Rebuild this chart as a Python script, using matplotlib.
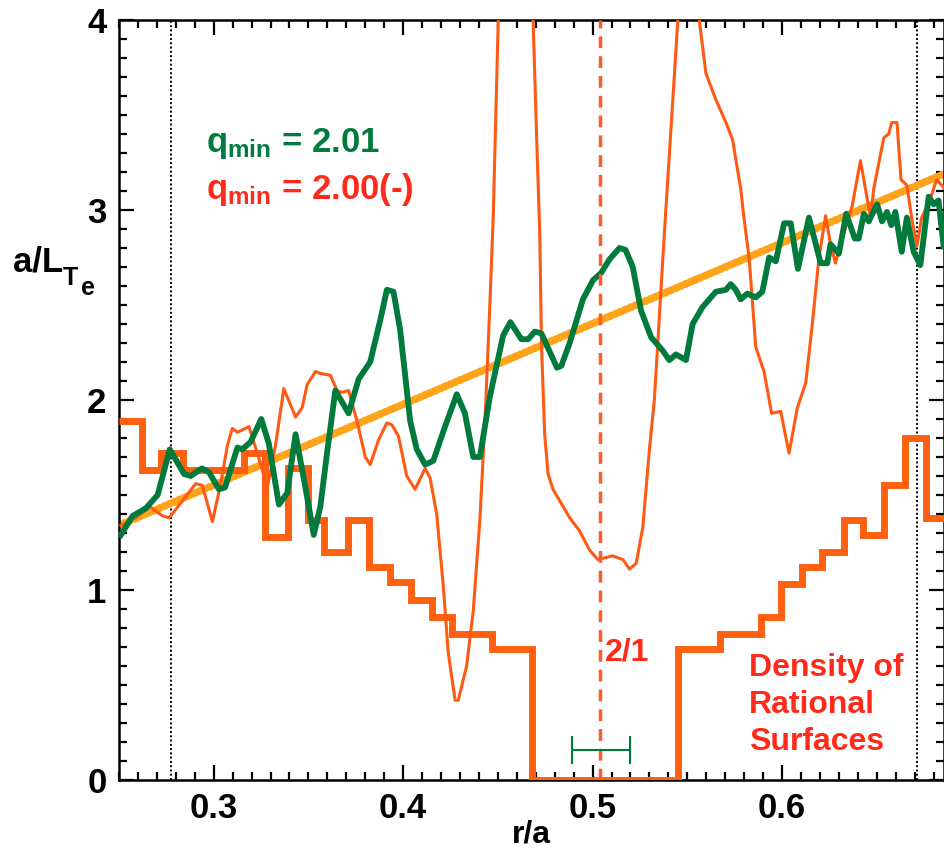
import numpy as np
import matplotlib
matplotlib.use("Agg")
from matplotlib import pyplot as plt
from matplotlib.ticker import MultipleLocator

plt.rcParams['font.family'] = ['Liberation Sans', 'DejaVu Sans']
plt.rcParams['font.weight'] = 'bold'
plt.rcParams['mathtext.fontset'] = 'custom'
plt.rcParams['mathtext.rm'] = 'Liberation Sans:bold'
plt.rcParams['mathtext.it'] = 'Liberation Sans:bold'
plt.rcParams['mathtext.bf'] = 'Liberation Sans:bold'

# q_min = 2.01 profile (thick green)
green_r = [0.251, 0.2572, 0.2642, 0.2704, 0.2768, 0.2844, 0.2879, 0.2937, 0.2975, 0.3028,
           0.306, 0.3125, 0.3151, 0.3195, 0.3251, 0.3291, 0.3344, 0.3388, 0.3432, 0.3484,
           0.3528, 0.3563, 0.3598, 0.3642, 0.3712, 0.3765, 0.3826, 0.3879, 0.3914, 0.3949,
           0.3984, 0.4037, 0.4072, 0.4116, 0.4159, 0.4221, 0.4283, 0.4326, 0.4370, 0.4405,
           0.4458, 0.4528, 0.4566, 0.4624, 0.466, 0.4695, 0.473, 0.4812, 0.4835, 0.4879,
           0.4949, 0.5002, 0.5046, 0.5089, 0.5142, 0.5174, 0.5212, 0.5256, 0.5309, 0.537,
           0.5405, 0.544, 0.5493, 0.5528, 0.5581, 0.5651, 0.5704, 0.5729, 0.5756, 0.5782,
           0.5817, 0.5861, 0.5896, 0.5932, 0.5967, 0.6011, 0.6046, 0.6084, 0.6142, 0.6204,
           0.6239, 0.6256, 0.63, 0.6339, 0.6384, 0.6405, 0.6432, 0.6458, 0.6502, 0.6528,
           0.6554, 0.6577, 0.6598, 0.6632, 0.6659, 0.6695, 0.673, 0.6774, 0.68, 0.6826, 0.6853]
green_v = [1.29, 1.39, 1.43, 1.50, 1.74, 1.61, 1.60, 1.64, 1.62, 1.53,
           1.54, 1.75, 1.74, 1.78, 1.90, 1.77, 1.45, 1.51, 1.82, 1.54,
           1.29, 1.44, 1.72, 2.05, 1.93, 2.11, 2.20, 2.42, 2.58, 2.57,
           2.37, 1.89, 1.74, 1.66, 1.68, 1.86, 2.03, 1.93, 1.70, 1.70,
           2.02, 2.34, 2.41, 2.32, 2.32, 2.36, 2.35, 2.17, 2.18, 2.30,
           2.53, 2.63, 2.67, 2.74, 2.80, 2.79, 2.70, 2.47, 2.33, 2.26,
           2.21, 2.24, 2.21, 2.40, 2.49, 2.57, 2.58, 2.61, 2.58, 2.53,
           2.56, 2.54, 2.57, 2.75, 2.73, 2.93, 2.93, 2.69, 2.96, 2.72,
           2.72, 2.82, 2.77, 2.98, 2.85, 2.85, 2.98, 2.94, 3.03, 2.94,
           2.99, 2.92, 2.99, 2.78, 2.96, 2.78, 2.71, 3.07, 3.03, 3.05, 2.81]

# q_min = 2.00(-) profile (thin orange), spikes run off the top
orange_r = [0.251, 0.259, 0.266, 0.273, 0.2765, 0.2835, 0.2905, 0.294, 0.2993, 0.3037,
            0.3072, 0.3098, 0.3125, 0.3186, 0.323, 0.3283, 0.3326, 0.337, 0.3432, 0.3467,
            0.3493, 0.3537, 0.3563, 0.3616, 0.3651, 0.3677, 0.3712, 0.3756, 0.38, 0.3826,
            0.387, 0.3914, 0.394, 0.3975, 0.4019, 0.4063, 0.4116, 0.4142, 0.4177, 0.4212,
            0.4238, 0.4274, 0.4291, 0.4335, 0.437, 0.4405, 0.4432, 0.4458, 0.4475, 0.4502,
            0.4595, 0.4686, 0.4704, 0.4721, 0.473, 0.4747, 0.4765, 0.4791, 0.4879, 0.4932,
            0.4984, 0.5028, 0.5105, 0.516, 0.5195, 0.523, 0.5265, 0.5300, 0.5326, 0.5379,
            0.545, 0.5505, 0.5563, 0.5598, 0.5651, 0.5704, 0.5739, 0.5782, 0.5800, 0.5826,
            0.5845, 0.5861, 0.5905, 0.5945, 0.5993, 0.6037, 0.6081, 0.6125, 0.616, 0.6195,
            0.623, 0.6256, 0.6282, 0.6317, 0.637, 0.6414, 0.6467, 0.6484, 0.6537, 0.6563,
            0.6579, 0.6607, 0.6628, 0.6659, 0.6684, 0.6712, 0.6737, 0.678, 0.6816, 0.6853]
orange_v = [1.34, 1.38, 1.44, 1.39, 1.38, 1.47, 1.56, 1.55, 1.36, 1.56,
            1.76, 1.85, 1.83, 1.86, 1.72, 1.54, 1.76, 2.06, 1.91, 1.96,
            2.08, 2.15, 2.14, 2.13, 2.05, 2.04, 2.05, 1.89, 1.70, 1.66,
            1.79, 1.88, 1.87, 1.81, 1.60, 1.53, 1.64, 1.59, 1.40, 1.02,
            0.67, 0.42, 0.42, 0.60, 0.89, 1.37, 1.89, 2.51, 2.95, 4.0,
            7.5, 4.0, 3.40, 2.88, 2.30, 1.82, 1.61, 1.53, 1.38, 1.31,
            1.21, 1.16, 1.18, 1.16, 1.11, 1.14, 1.33, 1.74, 2.0, 2.88,
            4.0, 6.0, 4.0, 3.72, 3.58, 3.46, 3.37, 3.11, 2.95, 2.75,
            2.50, 2.28, 2.15, 1.93, 1.94, 1.72, 1.96, 2.09, 2.40, 2.75,
            2.97, 2.82, 2.72, 2.85, 3.02, 3.26, 2.96, 3.11, 3.38, 3.40,
            3.46, 3.46, 3.16, 3.13, 2.96, 2.81, 2.96, 3.05, 3.16, 3.12]

# linear fit
trend_r = [0.25, 0.6855]
trend_v = [1.34, 3.19]

# density of rational surfaces (staircase)
stair_edges = [0.25, 0.262, 0.272, 0.284, 0.316, 0.327, 0.339, 0.350, 0.358, 0.371,
               0.382, 0.393, 0.404, 0.415, 0.426, 0.447, 0.468, 0.545, 0.567, 0.589,
               0.5995, 0.6105, 0.621, 0.6326, 0.643, 0.6537, 0.665, 0.676, 0.6855]
stair_v = [1.89, 1.63, 1.72, 1.63, 1.72, 1.28, 1.64, 1.37, 1.20, 1.37,
           1.12, 1.04, 0.95, 0.86, 0.77, 0.69, 0.0, 0.69, 0.77, 0.86,
           1.03, 1.12, 1.20, 1.37, 1.29, 1.55, 1.80, 1.38]

rational_r = 0.504
err_center, err_half, err_y = 0.5042, 0.0153, 0.16
dotted_r = [0.2774, 0.671]

green = '#007a3d'
orange = '#ff5a14'
stair_col = '#ff6010'
trend_col = '#ffa31a'
red = '#ff2a1a'

fig = plt.figure(figsize=(9.45, 8.5), dpi=100)
ax = fig.add_axes([119 / 945, 70 / 850, 825 / 945, 760 / 850])

ax.plot(trend_r, trend_v, color=trend_col, lw=5.6, ls=(0, (0.2, 0.5)),
        dash_capstyle='round', zorder=2)
ax.stairs(stair_v, stair_edges, color=stair_col, lw=5, baseline=None, zorder=3)
ax.plot(orange_r, orange_v, color=orange, lw=2.2, zorder=4)
ax.plot(green_r, green_v, color=green, lw=4.2, zorder=5)

for r in dotted_r:
    ax.axvline(r, color='black', lw=1.4, ls=(0, (1, 1.2)), zorder=1)
ax.axvline(rational_r, color='#ff5a2a', lw=2.5, ls=(0, (3.4, 2.3)), zorder=6)

ax.errorbar([err_center], [err_y], xerr=[err_half], color=green, lw=1.5,
            capsize=10, capthick=1.5, zorder=7)

ax.set_xlim(0.25, 0.6855)
ax.set_ylim(0, 4)
ax.xaxis.set_major_locator(MultipleLocator(0.1))
ax.xaxis.set_minor_locator(MultipleLocator(0.01))
ax.yaxis.set_major_locator(MultipleLocator(1))
ax.yaxis.set_minor_locator(MultipleLocator(0.1))
ax.set_xticks([0.3, 0.4, 0.5, 0.6])
ax.set_xticklabels(['0.3', '0.4', '0.5', '0.6'])
ax.set_yticks([0, 1, 2, 3, 4])
ax.set_yticklabels(['0', '1', '2', '3', '4'])
ax.tick_params(which='both', direction='in', top=True, right=True, width=1.6)
ax.tick_params(which='major', length=11, labelsize=25, pad=9)
ax.tick_params(which='minor', length=6)
for s in ax.spines.values():
    s.set_linewidth(1.8)

ax.set_xlabel('r/a', fontsize=23, fontweight='bold', labelpad=-4)

fig.text(13 / 945, 1 - 272 / 850, 'a/L', fontsize=25, fontweight='bold', ha='left', va='baseline')
fig.text(63 / 945, 1 - 285 / 850, 'T', fontsize=18, fontweight='bold', ha='left', va='baseline')
fig.text(81 / 945, 1 - 295 / 850, 'e', fontsize=18, fontweight='bold', ha='left', va='baseline')

ax.text(0.2958, 3.305, r'$q_{min}$ = 2.01', color=green, fontsize=25, fontweight='bold', va='baseline')
ax.text(0.2958, 3.06, r'$q_{min}$ = 2.00(-)', color=red, fontsize=25, fontweight='bold', va='baseline')
ax.text(0.5063, 0.63, '2/1', color=red, fontsize=23, fontweight='bold', va='baseline')
ax.text(0.5826, 0.16, 'Density of\nRational\nSurfaces', color=red, fontsize=23,
        fontweight='bold', va='baseline', linespacing=1.3)

fig.savefig('out.png', dpi=100)
